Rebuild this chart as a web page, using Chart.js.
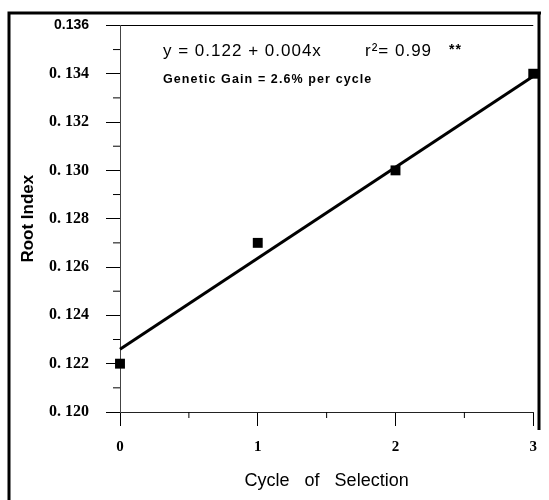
<!DOCTYPE html>
<html>
<head>
<meta charset="utf-8">
<script src="https://cdn.jsdelivr.net/npm/chart.js@4/dist/chart.umd.min.js"></script>
<style>
  body { margin: 0; background: #fff; }
  #wrap { position: relative; width: 549px; height: 500px; }
</style>
</head>
<body>
<div id="wrap"><canvas id="rootChart" width="549" height="500"></canvas></div>
<script>
// values
const cycles = [0, 1, 2, 3];
const rootIndex = [0.122, 0.127, 0.130, 0.134];
const fitX = [0, 3];
const fitY = [0.1226, 0.1339];
const xTickLabels = ['0', '1', '2', '3'];
const yTickLabels = ['0. 120', '0. 122', '0. 124', '0. 126', '0. 128', '0. 130', '0. 132', '0. 134', '0.136'];
const xMinor = [0.5, 1.5, 2.5];
const yMinor = [0.121, 0.123, 0.125, 0.127, 0.129, 0.131, 0.133, 0.135];

// frame, minor ticks and the equation text
const extras = {
    id: 'extras',
    afterDraw(chart) {
        const c = chart.ctx;
        const a = chart.chartArea;
        const xs = chart.scales.x, ys = chart.scales.y;
        c.save();
        c.strokeStyle = '#000';
        c.lineWidth = 1;
        c.beginPath();
        xMinor.forEach(v => {
            let px = xs.getPixelForValue(v);
            c.moveTo(px, a.bottom);
            c.lineTo(px, a.bottom + 6);
        });
        yMinor.forEach(v => {
            let py = ys.getPixelForValue(v);
            c.moveTo(a.left - 7, py);
            c.lineTo(a.left, py);
        });
        c.stroke();

        // outer frame
        c.lineWidth = 3;
        c.beginPath();
        c.moveTo(9, 500);
        c.lineTo(9, 13);
        c.lineTo(541, 13);
        c.moveTo(539, 13);
        c.lineTo(539, 430);
        c.stroke();

        // regression text
        c.fillStyle = '#000';
        c.textBaseline = 'alphabetic';
        c.letterSpacing = '1px';
        c.font = '17px "Liberation Sans", Arial, sans-serif';
        c.fillText('y = 0.122 + 0.004x', a.left + 43, a.top + 31);
        c.fillText('r\u00b2= 0.99', a.left + 245, a.top + 31);
        c.font = 'bold 14px "Liberation Sans", Arial, sans-serif';
        c.fillText('**', a.left + 329, a.top + 29);
        c.letterSpacing = '1.1px';
        c.font = 'bold 12.5px "Liberation Sans", Arial, sans-serif';
        c.fillText('Genetic Gain = 2.6% per cycle', a.left + 43, a.top + 58);
        c.restore();
    }
};

const ctx = document.getElementById('rootChart');
let chr = new Chart(ctx, {
    type: 'scatter',
    data: {
        datasets: [{
            label: 'Regression',
            type: 'line',
            data: fitX.map((x, i) => ({x: x, y: fitY[i]})),
            borderColor: '#000',
            borderWidth: 3,
            pointRadius: 0,
            fill: false
        }, {
            label: 'Root Index',
            data: cycles.map((x, i) => ({x: x, y: rootIndex[i]})),
            pointStyle: 'rect',
            pointRadius: 7,
            backgroundColor: '#000',
            borderColor: '#000',
            borderWidth: 0
        }]
    },
    options: {
        responsive: false,
        animation: false,
        clip: false,
        layout: { padding: { top: 25, right: 10, left: 0, bottom: 0 } },
        plugins: {
            legend: { display: false },
            tooltip: { enabled: false }
        },
        scales: {
            x: {
                type: 'linear',
                min: 0,
                max: 3,
                afterFit: s => { s.height = 88; },
                border: { display: true, color: '#222', width: 1 },
                grid: { drawOnChartArea: false, tickColor: '#000', tickLength: 14 },
                ticks: {
                    stepSize: 1,
                    padding: 12,
                    color: '#000',
                    font: { family: '"Liberation Serif", serif', size: 15, weight: 'bold' },
                    callback: (v, i) => xTickLabels[i]
                },
                title: {
                    display: true,
                    text: 'Cycle   of   Selection',
                    color: '#000',
                    font: { family: '"Liberation Sans", Arial, sans-serif', size: 18 },
                    padding: { top: 0, bottom: 8 }
                }
            },
            y: {
                min: 0.120,
                max: 0.136,
                afterFit: s => { s.width = 120; },
                border: { display: true, color: '#444', width: 1 },
                grid: {
                    color: c => (c.tick && c.tick.value > 0.1359) ? '#000' : 'rgba(0,0,0,0)',
                    tickColor: '#000',
                    tickLength: 14
                },
                ticks: {
                    stepSize: 0.002,
                    padding: 17,
                    color: '#000',
                    font: c => (c.index === 8)
                        ? { family: '"Liberation Sans", Arial, sans-serif', size: 14, weight: 'bold' }
                        : { family: '"Liberation Serif", serif', size: 16, weight: 'bold' },
                    callback: (v, i) => yTickLabels[i]
                },
                title: {
                    display: true,
                    text: 'Root Index',
                    color: '#000',
                    font: { family: '"Liberation Sans", Arial, sans-serif', size: 17, weight: 'bold' },
                    padding: { top: 18, bottom: 0 }
                }
            }
        }
    },
    plugins: [extras]
});
</script>
</body>
</html>
